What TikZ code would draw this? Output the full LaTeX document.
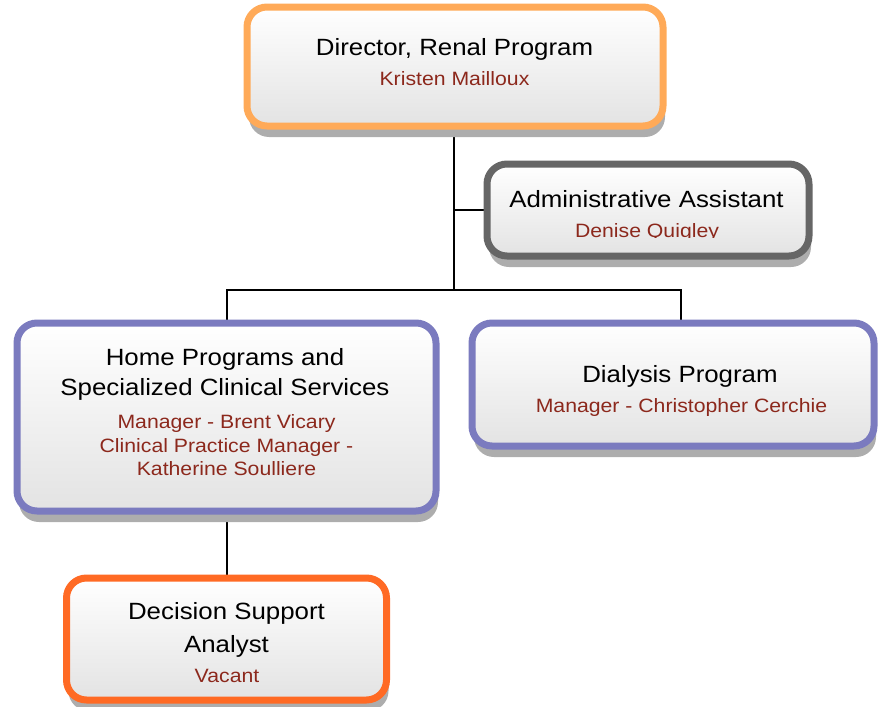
\documentclass[tikz,border=0pt]{standalone}
\usepackage{fontspec}
\newfontfamily\boxfont{Liberation Sans}[FakeStretch=1.1]
\usetikzlibrary{shadows,backgrounds}
\definecolor{dirorange}{RGB}{255,170,88}
\definecolor{admgray}{RGB}{102,102,102}
\definecolor{purp}{RGB}{123,123,191}
\definecolor{decorange}{RGB}{255,106,36}
\definecolor{namered}{RGB}{140,40,28}
\tikzset{
  box/.style={draw=#1, line width=7pt, rounded corners=20pt, top color=white, bottom color=black!11,
    drop shadow={shadow xshift=2pt, shadow yshift=-11pt, fill=black!32, opacity=1}, inner sep=0pt},
  ttl/.style={anchor=base, inner sep=0pt, font=\boxfont\fontsize{23.5}{28}\selectfont, text=black},
  nm/.style={anchor=base, inner sep=0pt, font=\boxfont\fontsize{19.3}{23}\selectfont, text=namered},
  conn/.style={draw=black, line width=2pt}
}
\begin{document}
\begin{tikzpicture}[x=1pt,y=-1pt]
\useasboundingbox (0,0) rectangle (879,707);
\node[box=dirorange, minimum width=416pt, minimum height=119pt] (dir) at (455,66.5) {};
\node[box=admgray, minimum width=322pt, minimum height=92pt] (adm) at (648,210) {};
\node[box=purp, minimum width=419pt, minimum height=188pt] (home) at (226.5,417) {};
\node[box=purp, minimum width=402pt, minimum height=123pt] (dial) at (673,384.5) {};
\node[box=decorange, minimum width=320pt, minimum height=122pt] (dec) at (226.5,639) {};
% texts
\node[ttl] (t1) at (454.5,55) {Director, Renal Program};
\node[nm] (n1) at (454.5,85) {Kristen Mailloux};
\node[ttl] (t2) at (646.5,207) {Administrative Assistant};
\begin{scope}
\clip (480,215) rectangle (820,237.5);
\node[nm] (n2) at (647,237) {Denise Quigley};
\end{scope}
\node[ttl] (t3a) at (225,365) {Home Programs and};
\node[ttl] (t3b) at (225,395) {Specialized Clinical Services};
\node[nm] (n3a) at (226.5,428) {Manager - Brent Vicary};
\node[nm] (n3b) at (226.5,452) {Clinical Practice Manager -};
\node[nm] (n3c) at (226.5,475) {Katherine Soulliere};
\node[ttl] (t4) at (680,382) {Dialysis Program};
\node[nm] (n4) at (681.5,412) {Manager - Christopher Cerchie};
\node[ttl] (t5a) at (226.5,619) {Decision Support};
\node[ttl] (t5b) at (226.5,652) {Analyst};
\node[nm] (n5) at (227,682) {Vacant};
\coordinate (jn) at (454,290);
\begin{scope}[on background layer]
\draw[conn] ([xshift=-1pt]dir.south) -- ([xshift=-1pt]dir.south |- adm.west) -- (adm.west);
\draw[conn] ([xshift=-1pt]dir.south) -- (jn);
\draw[conn] (home.north) |- (jn) -| ([xshift=8pt]dial.north);
\draw[conn] (home.south) -- (dec.north);
\end{scope}
\end{tikzpicture}
\end{document}
